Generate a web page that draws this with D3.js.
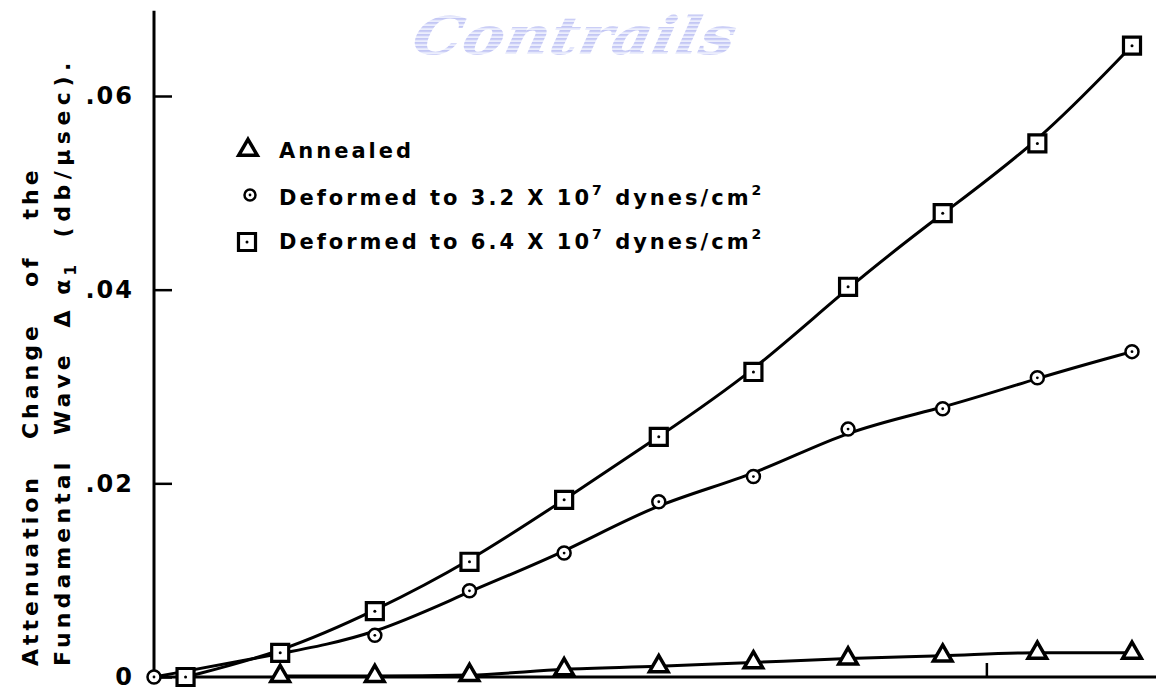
<!DOCTYPE html>
<html>
<head>
<meta charset="utf-8">
<script src="https://cdn.jsdelivr.net/npm/d3@7"></script>
<style>
  html, body { margin: 0; padding: 0; background: #ffffff; }
  svg { display: block; }
  text { font-family: "DejaVu Sans", sans-serif; font-weight: bold; fill: #000; }
</style>
</head>
<body>
<svg id="chart" width="1156" height="698"></svg>
<script>
// Attenuation change of the fundamental wave vs. applied load (arbitrary x units)
const annealedX = [4, 7, 10, 13, 16, 19, 22, 25, 28, 31];
const annealedY = [0.0001, 0.0001, 0.0002, 0.0008, 0.0011, 0.0015, 0.0019, 0.0022, 0.0025, 0.0025];

const def32X = [0, 4, 7, 10, 13, 16, 19, 22, 25, 28, 31];
const def32Y = [0, 0.0024, 0.0043, 0.0089, 0.0128, 0.0181, 0.0207, 0.0256, 0.0277, 0.0309, 0.0336];

const def64X = [1, 4, 7, 10, 13, 16, 19, 22, 25, 28, 31];
const def64Y = [0, 0.0025, 0.0068, 0.0119, 0.0183, 0.0248, 0.0315, 0.0403, 0.0479, 0.0551, 0.0652];

const yTickValues = [0, 0.02, 0.04, 0.06];
const yTickLabels = ["0", ".02", ".04", ".06"];
const xMinorTick = [26.4];

const legendLabels = ["Annealed", "Deformed to 3.2 X 10", "Deformed to 6.4 X 10"];

const svg = d3.select("#chart");

const x = d3.scaleLinear().domain([0, 31]).range([154, 1132]);
const y = d3.scaleLinear().domain([0, 0.06]).range([677, 96]);

// faint striped watermark
const defs = svg.append("defs");
const pat = defs.append("pattern")
  .attr("id", "stripes").attr("patternUnits", "userSpaceOnUse")
  .attr("width", 8).attr("height", 4);
pat.append("rect").attr("width", 8).attr("height", 4).attr("fill", "#eceefd");
pat.append("rect").attr("width", 8).attr("height", 2).attr("fill", "#c3c7f4");

svg.append("text")
  .attr("transform", "translate(410,54) skewX(-12)")
  .attr("textLength", 322).attr("lengthAdjust", "spacingAndGlyphs")
  .style("font-family", "'DejaVu Serif', serif")
  .style("font-style", "italic").style("font-weight", "bold")
  .style("font-size", "52px")
  .style("fill", "url(#stripes)")
  .text("Contrails");

// axes
const yAxis = d3.axisLeft(y)
  .tickValues(yTickValues)
  .tickSizeInner(-18).tickSizeOuter(0)
  .tickPadding(20)
  .tickFormat((d, i) => yTickLabels[i]);

const gy = svg.append("g").attr("transform", `translate(${x(0)},0)`).call(yAxis);
gy.select(".domain").remove();
gy.selectAll(".tick line").attr("stroke", "#000").attr("stroke-width", 2.5);
gy.selectAll(".tick text")
  .style("font-size", "24px").style("letter-spacing", "2px")
  .style("font-family", "'DejaVu Sans', sans-serif").style("font-weight", "bold");

svg.append("line")
  .attr("x1", x(0)).attr("x2", x(0))
  .attr("y1", y(0) + 1).attr("y2", y(0.0688))
  .attr("stroke", "#000").attr("stroke-width", 3);

svg.append("line")
  .attr("x1", x(0)).attr("x2", x(31.9))
  .attr("y1", y(0)).attr("y2", y(0))
  .attr("stroke", "#000").attr("stroke-width", 3);

svg.selectAll(".xminor").data(xMinorTick).enter().append("line")
  .attr("x1", d => x(d)).attr("x2", d => x(d))
  .attr("y1", y(0)).attr("y2", y(0) - 14)
  .attr("stroke", "#000").attr("stroke-width", 2.5);

// y-axis title, two rotated lines
const title = svg.append("g").style("font-size", "22px");
title.append("text")
  .attr("transform", "rotate(-90)")
  .attr("x", -666).attr("y", 38)
  .attr("xml:space", "preserve")
  .style("letter-spacing", "4px")
  .text("Attenuation   Change   of   the");
const t2 = title.append("text")
  .attr("transform", "rotate(-90)")
  .attr("x", -666).attr("y", 70)
  .attr("xml:space", "preserve")
  .style("letter-spacing", "4.1px");
t2.append("tspan").text("Fundamental  Wave  \u0394 \u03b1");
t2.append("tspan").attr("dy", 6).style("font-size", "15px").text("1");
t2.append("tspan").attr("dy", -6).text("  ");
t2.append("tspan").style("letter-spacing", "5.5px").text("(db/\u03bcsec).");

// curves
const lineOf = (xs, ys, curve) => d3.line()
  .x((d, i) => x(xs[i])).y(d => y(d)).curve(curve)(ys);

const curves = svg.append("g").attr("fill", "none").attr("stroke", "#000").attr("stroke-width", 3);
curves.append("path").attr("d", lineOf(annealedX, annealedY, d3.curveMonotoneX));
curves.append("path").attr("d", lineOf(def32X, def32Y, d3.curveBasis));
curves.append("path").attr("d", lineOf(def64X, def64Y, d3.curveBasis));

// markers
const tri = d3.symbol(d3.symbolTriangle, 150)();
const sq = d3.symbol(d3.symbolSquare, 290)();

function triangles(g, pts) {
  g.selectAll(".tri").data(pts).enter().append("path")
    .attr("class", "tri")
    .attr("transform", d => `translate(${d[0]},${d[1]})`)
    .attr("d", tri).attr("fill", "#fff").attr("stroke", "#000").attr("stroke-width", 3.5)
    .attr("stroke-linejoin", "miter");
}
function circles(g, pts, r) {
  const c = g.selectAll(".circ").data(pts).enter().append("g")
    .attr("class", "circ").attr("transform", d => `translate(${d[0]},${d[1]})`);
  c.append("circle").attr("r", r).attr("fill", "#fff").attr("stroke", "#000").attr("stroke-width", 2.5);
  c.append("circle").attr("r", 1.4).attr("fill", "#000");
}
function squares(g, pts) {
  const s = g.selectAll(".sq").data(pts).enter().append("g")
    .attr("class", "sq").attr("transform", d => `translate(${d[0]},${d[1]})`);
  s.append("path").attr("d", sq).attr("fill", "#fff").attr("stroke", "#000").attr("stroke-width", 3.2);
  s.append("circle").attr("r", 1.5).attr("fill", "#000");
}

const marks = svg.append("g");
triangles(marks.append("g"), annealedX.map((v, i) => [x(v), y(annealedY[i])]));
circles(marks.append("g"), def32X.map((v, i) => [x(v), y(def32Y[i])]), 6.5);
squares(marks.append("g"), def64X.map((v, i) => [x(v), y(def64Y[i])]));

// legend
const legend = svg.append("g").style("font-size", "21px").style("letter-spacing", "3px");
const rowY = [150, 197, 241];
triangles(legend.append("g"), [[248, rowY[0]]]);
circles(legend.append("g"), [[250, rowY[1] - 2]], 5.5);
squares(legend.append("g"), [[247, rowY[2] + 1]]);

legendLabels.forEach((lab, i) => {
  const t = legend.append("text").attr("x", 279).attr("y", rowY[i] + 8)
    .attr("xml:space", "preserve");
  t.append("tspan").text(lab);
  if (i > 0) {
    t.append("tspan").attr("dy", -10).style("font-size", "14px").text("7");
    t.append("tspan").attr("dy", 10).text(" dynes/cm");
    t.append("tspan").attr("dy", -10).style("font-size", "14px").text("2");
  }
});
</script>
</body>
</html>
